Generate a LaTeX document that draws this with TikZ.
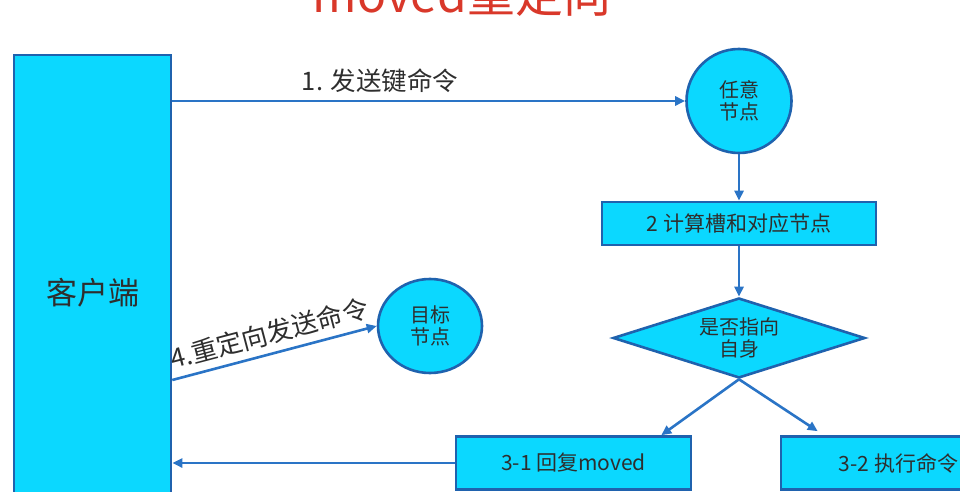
\documentclass[tikz,border=0pt]{standalone}
\usepackage{fontspec}
\newfontfamily\cjk{Noto Sans CJK SC}
\usetikzlibrary{arrows.meta, positioning, calc, shapes.geometric}
\definecolor{boxfill}{HTML}{0BD8FF}
\definecolor{boxline}{HTML}{1F62AE}
\definecolor{arrblue}{HTML}{2A74C6}
\definecolor{txtgray}{HTML}{2E2E2E}
\definecolor{titlered}{HTML}{D9382A}

\begin{document}
\begin{tikzpicture}[x=1pt, y=-1pt,
    box/.style={rectangle, draw=boxline, line width=2.6pt, fill=boxfill, text=txtgray, align=center, inner sep=0pt},
    roundbox/.style={box, ellipse},
    decide/.style={box, diamond, aspect=3},
    lbl/.style={text=txtgray, inner sep=2pt},
    arr/.style={-{Triangle[length=10pt, width=9pt]}, draw=arrblue, line width=2.6pt}]

  \useasboundingbox (0,0) rectangle (960,492);
  \clip (0,0) rectangle (960,492);

  % Title (cut off at the top)
  \node[anchor=base, text=titlered, font=\cjk\fontsize{48}{52}\selectfont] (ttl) at (462, 13) {moved重定向};

  % Client
  \node[box, minimum width=157pt, minimum height=476pt, font=\cjk\fontsize{31}{36}\selectfont] (client) at (92.5, 293) {客户端};

  % Any node
  \node[roundbox, minimum width=105pt, minimum height=104pt, font=\cjk\fontsize{20}{22}\selectfont] (any) at (739, 101) {任意\\节点};

  % Slot calculation
  \node[box, minimum width=274pt, minimum height=43pt, font=\cjk\fontsize{21}{24}\selectfont] (slot) at (739, 223.5) {2 计算槽和对应节点};

  % Decision
  \node[decide, minimum width=252pt, minimum height=80pt, font=\cjk\fontsize{20}{22}\selectfont] (self) at (739, 338) {是否指向\\自身};

  % Outcomes
  \node[box, minimum width=235pt, minimum height=53pt, font=\cjk\fontsize{21}{24}\selectfont] (moved) at (573.5, 463) {3-1 回复moved};
  \node[box, minimum width=235pt, minimum height=53pt, font=\cjk\fontsize{21}{24}\selectfont] (exec) at (898.5, 463) {3-2 执行命令};

  % Target node
  \node[roundbox, minimum width=104pt, minimum height=94pt, font=\cjk\fontsize{20}{22}\selectfont] (tgt) at (430, 326) {目标\\节点};

  \coordinate (redir) at (client.east |- 0, 380);

  % Arrows
  \draw[arr] (client.east |- any.west) -- node[lbl, above=5pt, pos=0.405, font=\cjk\fontsize{25.5}{28}\selectfont] (send) {1. 发送键命令} (any.west);
  \draw[arr] (any.south) -- (slot.north);
  \draw[arr] (slot.south) -- (self.north);
  \draw[arr] (self.south) -- ($(moved.north east)+(-31,0)$);
  \draw[arr] (self.south) -- ($(exec.north west)+(38,-4)$);
  \draw[arr] (moved.west) -- (client.east |- moved.west);
  \draw[arr] (redir) -- node[lbl, sloped, above=5pt, pos=0.5, font=\cjk\fontsize{26}{28}\selectfont] (resend) {4.重定向发送命令} (tgt.west);
\end{tikzpicture}
\end{document}
